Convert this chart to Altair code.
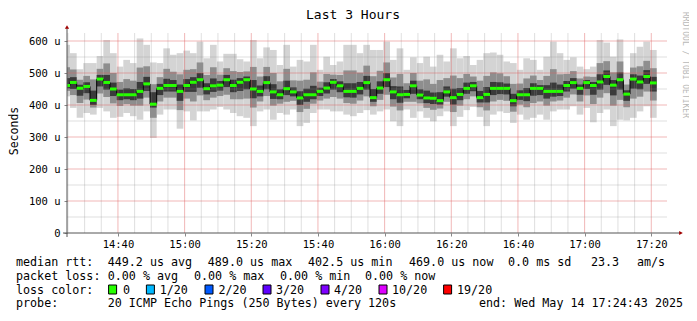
import altair as alt
import pandas as pd

# ---------------- data ----------------
median = [461, 470.5, 452, 458, 414.5, 481, 470.5, 450, 432, 432,
          432, 442.5, 466, 402.5, 452, 461, 461, 442.5, 461, 471,
          479, 451, 460, 462, 479, 461, 471, 479, 450, 442.5,
          470, 441, 432, 451, 441, 422, 432, 432, 442.5, 453,
          471, 460, 442.5, 442.5, 452, 470, 423, 453, 479, 441,
          432, 433, 460, 431, 422, 421, 413.5, 441, 423, 433,
          452, 460, 423, 433, 452, 452, 452, 413.5, 432, 432,
          452, 452, 442.5, 442.5, 442.5, 461, 470, 452, 470, 461,
          472, 489, 462, 479, 434, 481, 472, 489, 469]
smoke_max = [588, 562, 512, 531, 531, 553, 603, 562, 520, 541,
             531, 608, 588, 533, 531, 577, 557, 562, 570, 562,
             598, 546, 588, 536, 560, 560, 543, 536, 603, 546,
             580, 572, 525, 588, 520, 541, 536, 588, 510, 551,
             525, 536, 588, 588, 562, 588, 572, 572, 598, 541,
             577, 510, 549, 531, 551, 520, 557, 536, 577, 546,
             553, 525, 541, 562, 564, 557, 536, 531, 510, 546,
             541, 510, 551, 598, 562, 541, 549, 520, 512, 520,
             603, 595, 551, 605, 500, 562, 582, 598, 572]
smoke_min = [427, 391, 360, 375, 370, 391, 380, 360, 363, 375,
             365, 354, 380, 297, 370, 386, 386, 326, 380, 352,
             380, 380, 386, 394, 386, 375, 365, 360, 334, 380,
             386, 354, 375, 370, 386, 334, 344, 375, 386, 386,
             380, 380, 370, 365, 375, 384, 370, 380, 386, 349,
             334, 386, 360, 380, 360, 349, 365, 380, 334, 363,
             384, 394, 363, 334, 370, 380, 375, 344, 370, 354,
             360, 370, 354, 380, 386, 386, 396, 370, 391, 346,
             375, 386, 334, 354, 352, 360, 380, 396, 360]
mid_hi = [518, 511, 479, 491, 480, 513, 530, 500, 472, 481,
          476, 517, 521, 465, 487, 513, 504, 496, 510, 512,
          533, 494, 518, 495, 515, 506, 503, 505, 519, 489,
          519, 500, 474, 513, 477, 476, 479, 502, 473, 497,
          495, 494, 508, 508, 501, 523, 490, 507, 533, 486,
          497, 468, 500, 476, 480, 466, 478, 484, 492, 484,
          497, 489, 476, 491, 502, 499, 490, 466, 467, 483,
          492, 478, 491, 512, 496, 497, 506, 483, 489, 488,
          531, 537, 502, 536, 464, 517, 521, 538, 515]
mid_lo = [444, 431, 406, 417, 392, 436, 425, 405, 397, 403,
          398, 398, 423, 360, 411, 423, 423, 384, 420, 411,
          430, 415, 423, 428, 432, 418, 418, 420, 392, 411,
          428, 398, 404, 410, 413, 378, 388, 404, 414, 420,
          425, 420, 406, 404, 414, 427, 396, 416, 432, 395,
          383, 410, 410, 405, 391, 385, 389, 410, 378, 398,
          418, 427, 393, 383, 411, 416, 413, 379, 401, 393,
          406, 411, 398, 411, 414, 423, 433, 411, 430, 403,
          423, 437, 398, 416, 393, 420, 426, 442, 414]
core_hi = [484, 487, 463, 471, 445, 494, 494, 470, 448, 452,
           450, 472, 488, 440, 466, 482, 478, 464, 481, 487,
           500, 468, 483, 475, 494, 479, 484, 489, 478, 461,
           490, 465, 449, 476, 455, 443, 451, 460, 454, 471,
           481, 474, 468, 468, 472, 491, 450, 474, 500, 459,
           458, 447, 476, 449, 445, 439, 440, 458, 451, 453,
           470, 472, 444, 456, 472, 471, 467, 435, 446, 453,
           468, 462, 462, 470, 464, 475, 484, 464, 478, 472,
           496, 508, 478, 502, 446, 496, 492, 509, 488]
core_lo = [452, 450, 429, 437, 400, 458, 448, 428, 415, 418,
           415, 420, 444, 392, 431, 442, 442, 413, 441, 441,
           454, 433, 441, 445, 456, 440, 444, 449, 421, 427,
           449, 419, 418, 431, 427, 400, 410, 418, 428, 436,
           448, 440, 424, 423, 433, 448, 410, 435, 456, 418,
           407, 421, 435, 418, 406, 403, 401, 426, 401, 415,
           435, 443, 408, 408, 431, 434, 433, 396, 416, 412,
           429, 431, 420, 426, 428, 442, 451, 432, 450, 432,
           448, 463, 430, 448, 413, 451, 449, 466, 442]

loss_labels = ["0", "1/20", "2/20", "3/20", "4/20", "10/20", "19/20"]
loss_colors = ["#26ff00", "#00b8ff", "#0059ff", "#5e00ff", "#7e00ff", "#dd00ff", "#ff0000"]

title_text = "Last 3 Hours"
y_title = "Seconds"
credit = "RRDTOOL / TOBI OETIKER"
row_median = ["median rtt:", "449.2 us avg", "489.0 us max", "402.5 us min",
              "469.0 us now", "0.0 ms sd", "23.3", "am/s"]
row_loss = ["packet loss:", "0.00 % avg", "0.00 % max", "0.00 % min", "0.00 % now"]
row_color = ["loss color:"]
row_probe = ["probe:", "20 ICMP Echo Pings (250 Bytes) every 120s",
             "end: Wed May 14 17:24:43 2025"]

# axis / grid positions
x_label_times = ["14:40", "15:00", "15:20", "15:40", "16:00", "16:20", "16:40", "17:00", "17:20"]
y_labels = [0, 100, 200, 300, 400, 500, 600]
y_minor = [50, 150, 250, 350, 450, 550]

# ---------------- tables ----------------
starts = pd.date_range("2025-05-14 14:23:37", periods=len(median), freq="120s")
df = pd.DataFrame({
    "t0": starts,
    "t1": starts + pd.Timedelta(seconds=120),
    "med": median, "smax": smoke_max, "smin": smoke_min,
    "mhi": mid_hi, "mlo": mid_lo, "chi": core_hi, "clo": core_lo,
})
grid_t = pd.date_range("2025-05-14 14:25:00", "2025-05-14 17:20:00", freq="5min")
gx = pd.DataFrame({"t0": grid_t, "major": [t.minute % 20 == 0 for t in grid_t]})
gy = pd.DataFrame({"smax": y_labels[1:] + y_minor, "major": [True] * 6 + [False] * 6})

FONT = "DejaVu Sans Mono"
W, H = 600, 200

t_start = alt.DateTime(year=2025, month=5, date=14, hours=14, minutes=24, seconds=43)
t_end = alt.DateTime(year=2025, month=5, date=14, hours=17, minutes=24, seconds=43)
xscale = alt.Scale(domain=[t_start, t_end])
yscale = alt.Scale(domain=[0, 625], nice=False)

x_vals = [alt.DateTime(year=2025, month=5, date=14, hours=int(s[:2]), minutes=int(s[3:])) for s in x_label_times]
x_axis = alt.Axis(title=None, values=x_vals, format="%H:%M", grid=False, domain=False,
                  tickSize=3, tickColor="#888888", labelFont=FONT, labelFontSize=10.5,
                  labelColor="#000000", labelPadding=3, labelOverlap=False, labelFlush=False)
y_axis = alt.Axis(title=None, values=y_labels, grid=False, domain=False,
                  labelExpr="datum.value == 0 ? '0' : datum.value + ' u'",
                  tickSize=3, tickColor="#888888", labelFont=FONT, labelFontSize=10.5,
                  labelColor="#000000", labelPadding=4, labelOverlap=False)

# identical axis definitions in every layer so that they merge into one axis
X = alt.X("t0:T", scale=xscale, axis=x_axis, title=None)
X2 = alt.X2("t1:T")


def Y(field):
    return alt.Y(field, type="quantitative", scale=yscale, axis=y_axis, title=None)


base = alt.Chart(df)
outer = base.mark_rect(color="#d4d4d4", clip=True).encode(x=X, x2=X2, y=Y("smax"), y2="smin:Q")
mid = base.mark_rect(color="#8e8e8e", clip=True).encode(x=X, x2=X2, y=Y("mhi"), y2="mlo:Q")
core = base.mark_rect(color="#3a3a3a", clip=True).encode(x=X, x2=X2, y=Y("chi"), y2="clo:Q")

gcol = alt.Color("major:N", scale=alt.Scale(domain=[True, False], range=["#e06060", "#8c8c8c"]), legend=None)
gop = alt.Opacity("major:N", scale=alt.Scale(domain=[True, False], range=[0.45, 0.28]), legend=None)
grid_x = alt.Chart(gx).mark_rule(strokeWidth=1).encode(x=X, color=gcol, opacity=gop)
grid_y = alt.Chart(gy).mark_rule(strokeWidth=1).encode(y=Y("smax"), color=gcol, opacity=gop)

conn = base.transform_window(prev="lag(med)").transform_filter("datum.prev != null").mark_rule(
    color="#000000", strokeWidth=1, clip=True).encode(x=X, y=Y("med"), y2="prev:Q")
green = base.transform_calculate(g_hi="datum.med + 4.7", g_lo="datum.med - 4.7").mark_rect(
    clip=True, color=loss_colors[0]).encode(x=X, x2=X2, y=Y("g_hi"), y2="g_lo:Q")

one = pd.DataFrame({"a": [0]})


def txt(s, x, y, size=11.7, align="left", angle=0, color="#000000"):
    return alt.Chart(one).mark_text(text=s, align=align, baseline="middle", font=FONT, fontSize=size,
                                    angle=angle, color=color).encode(x=alt.value(x), y=alt.value(y))


ox, oy = 67, 33  # page position of the plot origin
texts = [txt(title_text, 353 - ox, 15 - oy, size=13, align="center"),
         txt(y_title, 15 - ox, 131 - oy, size=11.5, align="center", angle=270),
         txt(credit, 684.5 - ox, 65 - oy, size=8, align="center", angle=90, color="#b8b8b8")]
pos_median = [16, 107.7, 207.8, 308, 409, 508, 591, 637]
pos_loss = [16, 107.7, 194, 280, 365]
pos_probe = [16, 107.7, 479]
for row, pos, yy in [(row_median, pos_median, 262), (row_loss, pos_loss, 276),
                     (row_color, [16], 290), (row_probe, pos_probe, 303)]:
    for s, xx in zip(row, pos):
        texts.append(txt(s, xx - ox, yy - oy))

# loss colour legend: boxes and labels
box_x = [108.6, 146.4, 205, 263, 321, 379, 443.6]
lab_x = [123, 159.7, 218.5, 276, 334, 392, 457]
legend_layers = []
for c, lab, bx, lx in zip(loss_colors, loss_labels, box_x, lab_x):
    legend_layers.append(alt.Chart(one).mark_rect(color=c, stroke="#000000", strokeWidth=1).encode(
        x=alt.value(bx - ox), x2=alt.value(bx - ox + 8), y=alt.value(290 - oy - 5), y2=alt.value(290 - oy + 4)))
    legend_layers.append(txt(lab, lx - ox, 290 - oy))

axis_y_line = alt.Chart(one).mark_rule(color="#555555", strokeWidth=1).encode(
    x=alt.value(0), y=alt.value(-5), y2=alt.value(H + 4))
axis_x_line = alt.Chart(one).mark_rule(color="#555555", strokeWidth=1).encode(
    x=alt.value(-4), x2=alt.value(W + 13), y=alt.value(H))
arrow_up = alt.Chart(one).mark_point(shape="triangle-up", filled=True, color="#a00000", size=18, opacity=1).encode(
    x=alt.value(0), y=alt.value(-6))
arrow_right = alt.Chart(one).mark_point(shape="triangle-right", filled=True, color="#a00000", size=18, opacity=1).encode(
    x=alt.value(W + 14), y=alt.value(H))

chart = alt.layer(outer, mid, core, grid_x, grid_y, conn, green, axis_y_line, axis_x_line,
                  arrow_up, arrow_right, *texts, *legend_layers).properties(
    width=W, height=H,
    padding={"left": 59, "top": 25, "right": 22, "bottom": 80},
    autosize=alt.AutoSizeParams(type="none"),
    background="#ffffff",
).configure_view(strokeWidth=0)

chart.save("out.html", embed_options={"renderer": "svg", "actions": False})
